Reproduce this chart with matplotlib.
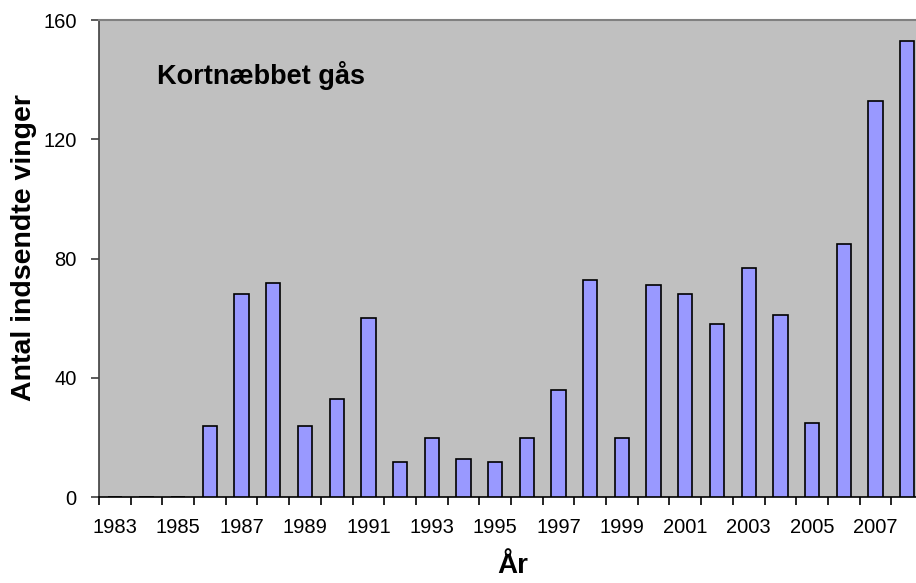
import matplotlib
matplotlib.use("Agg")
import matplotlib.pyplot as plt
import numpy as np

plt.rcParams['font.family'] = ['Liberation Sans', 'DejaVu Sans']

years = list(range(1983, 2009))
values = [0, 0, 0, 24, 68, 72, 24, 33, 60, 12, 20, 13, 12, 20, 36, 73, 20, 71, 68, 58, 77, 61, 25, 85, 133, 153]
yticks = [0, 40, 80, 120, 160]
title_text = "Kortnæbbet gås"
ylabel_text = "Antal indsendte vinger"
xlabel_text = "År"

W, H = 916, 583
fig = plt.figure(figsize=(W / 100, H / 100), dpi=100)
left, right, top, bottom = 99, 923, 20, 497.3
ax = fig.add_axes([left / W, (H - bottom) / H, (right - left) / W, (bottom - top) / H])
ax.set_facecolor('#C0C0C0')

x = np.arange(len(years))
ax.bar(x, values, width=0.45, color='#9999FF', edgecolor='black', linewidth=1.2, zorder=3)

ax.set_xlim(-0.5, len(years) - 0.5)
ax.set_ylim(0, 160)
ax.set_yticks(yticks)
ax.set_yticklabels([str(v) for v in yticks], fontsize=14.5)

# category boundaries as major ticks, labels at every other category center
ax.set_xticks(np.arange(len(years)) - 0.5)
ax.set_xticklabels([])
ax.set_xticks(x[::2], minor=True)
ax.set_xticklabels([str(y) for y in years[::2]], minor=True, fontsize=14.5)
ax.tick_params(axis='x', which='minor', length=0, pad=15)
ax.tick_params(axis='x', which='major', length=6, width=1.2, direction='out', color='black')
ax.tick_params(axis='y', length=6, width=1.2, direction='out', color='#404040', pad=10)

ax.spines['top'].set_color('#808080')
ax.spines['top'].set_linewidth(1.5)
ax.spines['left'].set_color('#404040')
ax.spines['left'].set_linewidth(1.2)
ax.spines['bottom'].set_color('black')
ax.spines['bottom'].set_linewidth(1.2)
ax.spines['right'].set_visible(False)

fig.text(157 / W, (H - 75) / H, title_text, fontsize=19.5,
         fontweight='bold', va='center', ha='left')
fig.text(24 / W, (H - 248) / H, ylabel_text, rotation=90, fontsize=20.5, fontweight='bold',
         va='center', ha='center')
fig.text(513 / W, (H - 566) / H, xlabel_text, fontsize=20, fontweight='bold',
         va='center', ha='center')

fig.savefig('out.png', dpi=100)
